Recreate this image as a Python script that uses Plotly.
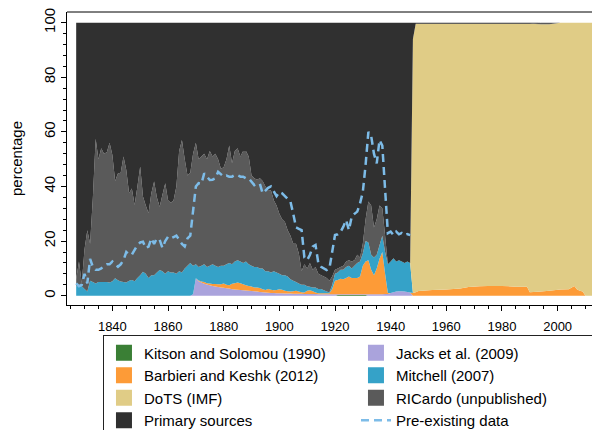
import numpy as np
import plotly.graph_objects as go

# annual 1827-1947, then sparser once the DoTS (IMF) data takes over
years = list(range(1827, 1948)) + [1948, 1949, 1950, 1955, 1960, 1965, 1968, 1972,
                                   1975, 1980, 1985, 1989, 1990, 1994, 1997, 2001,
                                   2004, 2006, 2007, 2008, 2009, 2010, 2013]

# upper edge of each stacked band (cumulative percentage)
ricardo_top = [
    6, 12.5, 4.5, 17, 24, 19, 36, 57.5, 50, 54,
    52, 52.5, 56, 51.5, 42, 44.8, 45, 51, 46, 37.5,
    39.3, 33.2, 40, 47.3, 36.3, 33, 30.2, 37.5, 41.8, 36,
    32.6, 37, 41.2, 35, 34, 35, 40, 53, 57, 50,
    44, 45, 52, 56, 50, 51, 52, 50, 53, 51,
    52, 50, 46.5, 47, 50, 55, 48.5, 53, 54, 51,
    53, 53, 51, 44, 43, 42.5, 43, 42, 40, 38.7,
    38.5, 35, 33, 30, 28, 27, 24, 22, 19, 19,
    15.5, 9, 11.5, 10, 12, 9.5, 10.5, 8, 7.5, 7,
    6.5, 5.5, 7, 9.5, 10, 10.5, 11, 12.5, 13, 12.5,
    13, 15, 14, 19, 28, 34.5, 33, 25, 28, 33,
    32, 22, 11.5, 12.5, 13.7, 12.5, 13, 12.5, 12, 12.5,
    12,
    94, 99.6, 99.6, 99.6, 99.6, 99.6, 99.6, 99.6, 99.6, 99.6, 99.6, 99.6, 99.6,
    100, 100, 100, 100, 100, 100, 100, 100, 100, 100,
]

mitchell_top = [
    3.5, 4, 3.5, 2.5, 1.5, 5.5, 5, 4.5, 5, 5,
    5, 5, 4.8, 5.3, 6.4, 5.7, 5.2, 5, 4.8, 5.5,
    5.8, 5.3, 6.5, 7.5, 8.8, 8, 6.5, 7.5, 7.5, 8.5,
    9.4, 9, 8, 9, 8.5, 8.5, 8, 9, 8.5, 10,
    11, 12, 11, 11.5, 10.5, 11, 11.5, 10.5, 11, 11.5,
    11, 10.5, 11, 11, 11.5, 12, 11.5, 12.5, 13, 12.5,
    12, 12.5, 11.5, 11, 10.5, 10.5, 10, 10, 9, 9,
    8.5, 9, 8.5, 8, 7.5, 7.5, 7, 6, 5.5, 5,
    4.5, 4, 4, 3.5, 3.3, 3, 3, 2.5, 2.5, 2,
    1.5, 1.2, 4, 8, 8.5, 9.5, 9.5, 10.5, 11, 10,
    11, 12, 12.5, 15.5, 20, 19.5, 15, 14, 15, 18.5,
    22, 16, 11.5, 12.5, 13.7, 12.5, 13, 12.5, 12, 12.5,
    12,
    1.0, 1.3, 1.7, 2.1, 2.3, 2.6, 3.2, 3.5, 3.6, 3.6, 3.3, 3.3, 1.3,
    1.5, 1.8, 2.3, 2.4, 3.6, 2.3, 1.8, 1.5, 0, 0,
]

barbieri_top = [0] * 42 + [
    0.5, 6.4, 5.6, 5.2, 5.0, 4.6, 4.5, 4.3,
    4.3, 4.2, 4.2, 4.5, 4.0, 3.8, 4.4, 4.6, 4.8, 4.6,
    4.2, 3.8, 3.6, 3.4, 3.0, 3.0, 2.8, 2.4, 2.1, 2.5,
    2.2, 2.0, 2.1, 2.4, 2.2, 1.8, 1.6, 1.5, 1.6, 1.8,
    1.5, 1.3, 1.2, 1.8, 2.0, 1.6, 1.2, 0.9, 0.9, 0.9,
    0.9, 0.9, 2.5, 5.5, 5.8, 6.2, 6, 6.5, 7, 6.5,
    6.5, 6.5, 7, 11, 12.5, 13, 9.5, 7.5, 10, 13.5,
    16, 8, 1, 1, 1.3, 1.5, 1.6, 1.6, 1.5, 1.4,
    1.2,
    1.0, 1.3, 1.7, 2.1, 2.3, 2.6, 3.2, 3.5, 3.6, 3.6, 3.3, 3.3, 1.3,
    1.5, 1.8, 2.3, 2.4, 3.6, 2.3, 1.8, 1.5, 0, 0,
]

jacks_top = [0] * 42 + [
    0.5, 6.4, 5.3, 4.8, 4.4, 4.1, 3.8, 3.6,
    3.4, 3.2, 3.0, 2.9, 2.7, 2.6, 2.4, 2.3, 2.2, 2.1,
    2.0, 1.9, 1.8, 1.7, 1.6, 1.5, 1.4, 1.3, 1.2, 1.1,
    1.0, 1.0, 0.9, 0.9, 0.9, 0.8, 0.8, 0.8, 0.7, 0.7,
    0.7, 0.7, 0.6, 0.6, 0.6, 0.6, 0.6, 0.5, 0.5, 0.5,
    0.5, 0.5, 0.5, 0.5, 0.5, 0.5, 0.5, 0.5, 0.5, 0.5,
    0.5, 0.5, 0.5, 0.5, 0.5, 0.5, 0.5, 0.5, 0.5, 0.5,
    0.5, 0.6, 0.6, 1.0, 1.3, 1.5, 1.6, 1.6, 1.5, 1.4,
    1.2,
] + [0] * 23

kitson_top = [0] * 94 + [0.3] * 11 + [0] * 39

dots_top = mitchell_top[:121] + [
    94, 99.6, 99.6, 99.6, 99.6, 99.6, 99.6, 99.6, 99.6, 99.6, 99.6, 99.6, 99.6,
    99.4, 99.4, 100, 100, 100, 100, 100, 100, 100, 100,
]

preexisting = [
    4.5, 3.5, 4, 8, 4.5, 13.5, 10.5, 9.5, 9.5, 10,
    11, 11.5, 11.5, 12.5, 11.5, 10.6, 11.5, 13, 16, 15,
    15, 17, 18.6, 19.5, 19.8, 17.4, 18, 21, 19, 21,
    20.5, 17.5, 20, 21.6, 21, 21.5, 22, 20.5, 19, 18,
    21, 22, 30, 40, 41.2, 41, 44.8, 43.5, 42.4, 42.5,
    43, 45.4, 44.5, 43.6, 44, 43.6, 43.6, 44.2, 44.2, 43.6,
    43.6, 43, 43, 41.8, 40.5, 41, 41, 37.5, 38.5, 39.5,
    40, 38, 36.5, 38, 37.5, 36.5, 35.5, 34.4, 30, 25,
    24.5, 24, 14, 13, 15, 18, 18.6, 12, 10.6, 10,
    9.4, 10, 16, 22.2, 22.5, 23.4, 25.3, 27.7, 24, 28.9,
    30, 30.8, 33.8, 38, 48, 60, 58.5, 52, 48.5, 57,
    55, 39.9, 22.9, 23.5, 22.2, 23.5, 22.5, 23, 22.2, 22.6,
    22.2,
] + [None] * 23

names = ["Kitson and Solomou (1990)", "Jacks et al. (2009)", "Barbieri and Keshk (2012)",
         "Mitchell (2007)", "DoTS (IMF)", "RICardo (unpublished)", "Primary sources"]
colors = ["#3a7f35", "#aaa3dc", "#fd9b37", "#35a2c8", "#e0cc86", "#5a5a5a", "#303030"]

tops = np.array([kitson_top, jacks_top, barbieri_top, mitchell_top,
                 dots_top, ricardo_top, [100] * len(years)], dtype=float)
shares = np.clip(np.diff(np.vstack([np.zeros(len(years)), tops]), axis=0), 0, None)

fig = go.Figure()
for name, color, share in zip(names, colors, shares):
    fig.add_trace(go.Scatter(x=years, y=share, stackgroup="src", mode="none",
                             fillcolor=color, name=name, showlegend=False,
                             hoverinfo="skip"))

# legend swatches as squares
for name, color in zip(names, colors):
    fig.add_trace(go.Scatter(x=[None], y=[None], mode="markers", name=name,
                             marker=dict(symbol="square", size=16, color=color)))

fig.add_trace(go.Scatter(x=years, y=preexisting, mode="lines", name="Pre-existing data",
                         line=dict(color="#7dbce8", width=2.5, dash="8px,5px")))

# the page body adds an 8px offset, so margins are trimmed by 8px
font = "Liberation Sans, Arial, sans-serif"
fig.update_layout(
    width=600, height=430,
    margin=dict(l=59, r=0, t=4, b=133, autoexpand=False),
    plot_bgcolor="white", paper_bgcolor="white",
    font=dict(family=font, color="black"),
    legend=dict(orientation="h", x=0.0665, xanchor="left", y=-0.104, yanchor="top",
                entrywidth=207, bordercolor="#222", borderwidth=1,
                font=dict(size=15, family=font), traceorder="normal"),
    shapes=[dict(type="line", xref="paper", yref="paper", x0=0, x1=1, y0=1, y1=1,
                 line=dict(color="black", width=1))],
)
fig.update_xaxes(range=[1823.7, 2018.1], tick0=1840, dtick=20, ticks="outside",
                 ticklen=5, tickcolor="black", showline=True, linecolor="black",
                 linewidth=1, showgrid=False, zeroline=False,
                 tickfont=dict(size=13), ticklabelstandoff=4,
                 minor=dict(ticks="outside", dtick=5, tick0=1840, ticklen=3,
                            tickcolor="black", showgrid=False))
fig.update_yaxes(range=[-3.4, 103.9], tick0=0, dtick=20, ticks="outside",
                 ticklen=5, tickcolor="black", showline=True, linecolor="black",
                 linewidth=1, showgrid=False, zeroline=False, tickangle=-90,
                 tickfont=dict(size=15), ticklabeloverflow="allow",
                 title=dict(text="percentage", font=dict(size=15), standoff=15),
                 minor=dict(ticks="outside", dtick=4, tick0=0, ticklen=3,
                            tickcolor="black", showgrid=False))

fig.write_html("out.html")
